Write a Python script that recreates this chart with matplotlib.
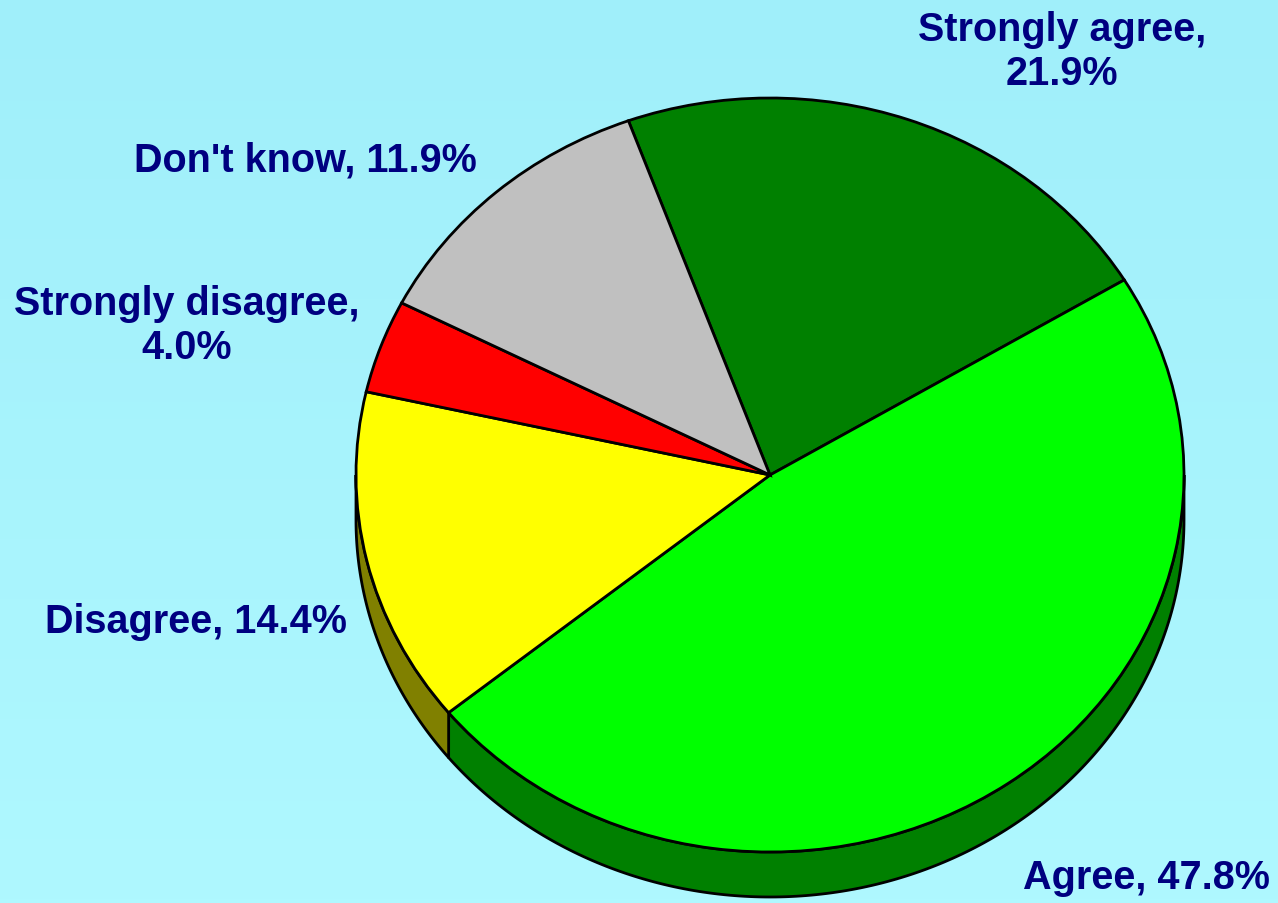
import numpy as np
import matplotlib
matplotlib.use("Agg")
import matplotlib.pyplot as plt
from matplotlib.colors import to_rgb, LinearSegmentedColormap
from matplotlib.patches import Polygon

categories = ["Strongly agree", "Agree", "Disagree", "Strongly disagree", "Don't know"]
values = [21.9, 47.8, 14.4, 4.0, 11.9]
colors = ["#008000", "#00FF00", "#FFFF00", "#FF0000", "#C0C0C0"]
labels = ["Strongly agree,\n21.9%", "Agree, 47.8%", "Disagree, 14.4%",
          "Strongly disagree,\n4.0%", "Don't know, 11.9%"]
label_pos = [(1062, 52), (1146, 878), (196, 622), (187, 326), (305, 160)]

W, H = 1278, 904
cx, cy, rx, ry = 770, 476, 414, 377
depth = 45 / ry

fig = plt.figure(figsize=(W / 100, H / 100), dpi=100)

# background gradient
bg = fig.add_axes([0, 0, 1, 1])
bg.set_axis_off()
cmap = LinearSegmentedColormap.from_list("bg", ["#AFF8FF", "#A0EFFA"])
grad = np.linspace(0, 1, 256).reshape(-1, 1)
bg.imshow(grad, aspect="auto", cmap=cmap, origin="lower", extent=[0, 1, 0, 1])

ax = fig.add_axes([0, 0, 1, 1])
ax.set_axis_off()
ax.patch.set_alpha(0)

wedges, _ = ax.pie(values, colors=colors, startangle=110, counterclock=False,
                   radius=1, center=(0, 0),
                   wedgeprops=dict(edgecolor="black", linewidth=2, zorder=3))
ax.set_aspect("auto")
ax.set_xlim(-cx / rx, (W - cx) / rx)
ax.set_ylim(-(H - cy) / ry, cy / ry)

# 3D side rim
for w, c in zip(wedges, colors):
    t1, t2 = w.theta1, w.theta2
    dark = tuple(0.5 * v for v in to_rgb(c))
    for k in (-2, -1, 0, 1, 2):
        lo = max(t1, -180 + 360 * k)
        hi = min(t2, 0 + 360 * k)
        if hi > lo:
            t = np.radians(np.linspace(lo, hi, 200))
            xs = np.cos(t)
            ys = np.sin(t)
            pts = np.concatenate([np.column_stack([xs, ys]),
                                  np.column_stack([xs[::-1], ys[::-1] - depth])])
            ax.add_patch(Polygon(pts, closed=True, facecolor=dark,
                                 edgecolor="black", linewidth=2, zorder=2))

for lab, (px, py) in zip(labels, label_pos):
    fig.text(px / W, 1 - py / H, lab, ha="center", va="center",
             fontsize=28.5, fontweight="bold", color="#000080",
             family=["Liberation Sans", "DejaVu Sans"], linespacing=1.2)

fig.savefig("out.png", dpi=100)
